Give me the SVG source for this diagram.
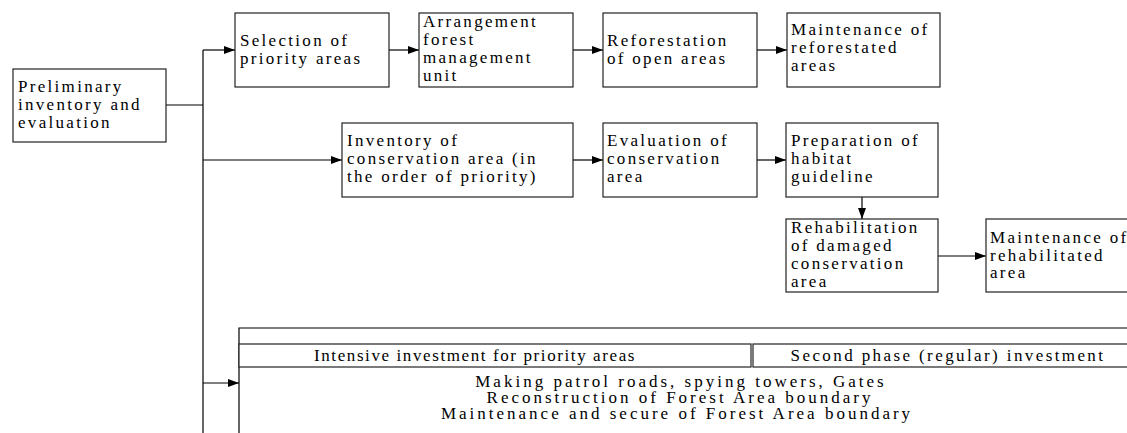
<svg xmlns="http://www.w3.org/2000/svg" width="1127" height="433" viewBox="0 0 1127 433" font-family="Liberation Serif, Times New Roman, serif">
<style>
.box{fill:#fff;stroke:#222;stroke-width:1.2}
.t{font-size:17px;letter-spacing:2.3px;fill:#000}
.c{text-anchor:middle}
.h1{letter-spacing:1.6px}
.h2{letter-spacing:2.4px}
.b{letter-spacing:3px}
.ln{stroke:#000;stroke-width:1.2;fill:none}
</style>
<defs>
<marker id="ah" markerWidth="11" markerHeight="8" refX="11" refY="4" orient="auto" markerUnits="userSpaceOnUse">
<path d="M0,0 L11,4 L0,8 Z" fill="#000"/>
</marker>
</defs>
<rect width="1127" height="433" fill="#fff"/>
<g id="connectors">
<path class="ln" d="M166,105 H203"/>
<path class="ln" d="M203,50 V433"/>
<path class="ln" d="M203,50 H235" marker-end="url(#ah)"/>
<path class="ln" d="M389,50 H419" marker-end="url(#ah)"/>
<path class="ln" d="M573,50 H603" marker-end="url(#ah)"/>
<path class="ln" d="M757,50 H787" marker-end="url(#ah)"/>
<path class="ln" d="M203,160 H342" marker-end="url(#ah)"/>
<path class="ln" d="M573,160 H603" marker-end="url(#ah)"/>
<path class="ln" d="M757,160 H786" marker-end="url(#ah)"/>
<path class="ln" d="M862,197 V219" marker-end="url(#ah)"/>
<path class="ln" d="M938,256 H986" marker-end="url(#ah)"/>
<path class="ln" d="M203,383 H239" marker-end="url(#ah)"/>
</g>
<g id="n-prelim">
<rect class="box" x="13" y="69" width="153" height="73"/>
<text class="t" x="18" y="92">Preliminary</text>
<text class="t" x="18" y="110">inventory and</text>
<text class="t" x="18" y="128">evaluation</text>
</g>
<g id="n-selection">
<rect class="box" x="235" y="13" width="154" height="74"/>
<text class="t" x="240" y="46">Selection of</text>
<text class="t" x="240" y="64">priority areas</text>
</g>
<g id="n-arrangement">
<rect class="box" x="419" y="13" width="154" height="74"/>
<text class="t" x="423" y="27">Arrangement</text>
<text class="t" x="423" y="45">forest</text>
<text class="t" x="423" y="63">management</text>
<text class="t" x="423" y="81">unit</text>
</g>
<g id="n-reforestation">
<rect class="box" x="603" y="13" width="154" height="74"/>
<text class="t" x="607" y="46">Reforestation</text>
<text class="t" x="607" y="64">of open areas</text>
</g>
<g id="n-maint-reforested">
<rect class="box" x="787" y="13" width="153" height="74"/>
<text class="t" x="791" y="35">Maintenance of</text>
<text class="t" x="791" y="53">reforestated</text>
<text class="t" x="791" y="71">areas</text>
</g>
<g id="n-inventory">
<rect class="box" x="342" y="123" width="231" height="74"/>
<text class="t" x="347" y="146">Inventory of</text>
<text class="t" x="347" y="164">conservation area (in</text>
<text class="t" x="347" y="182">the order of priority)</text>
</g>
<g id="n-evaluation">
<rect class="box" x="603" y="123" width="154" height="74"/>
<text class="t" x="607" y="146">Evaluation of</text>
<text class="t" x="607" y="164">conservation</text>
<text class="t" x="607" y="182">area</text>
</g>
<g id="n-preparation">
<rect class="box" x="786" y="123" width="152" height="74"/>
<text class="t" x="791" y="146">Preparation of</text>
<text class="t" x="791" y="164">habitat</text>
<text class="t" x="791" y="182">guideline</text>
</g>
<g id="n-rehab">
<rect class="box" x="786" y="219" width="152" height="73"/>
<text class="t" x="791" y="233">Rehabilitation</text>
<text class="t" x="791" y="251">of damaged</text>
<text class="t" x="791" y="269">conservation</text>
<text class="t" x="791" y="287">area</text>
</g>
<g id="n-maint-rehab">
<rect class="box" x="986" y="219" width="160" height="73"/>
<text class="t" x="990" y="243">Maintenance of</text>
<text class="t" x="990" y="261">rehabilitated</text>
<text class="t" x="990" y="278">area</text>
</g>
<g id="n-investment">
<path class="ln" d="M239,433 V328 H1127"/>
<rect class="box" x="239" y="344" width="512" height="23"/>
<rect class="box" x="753" y="344" width="390" height="23"/>
<text class="t c h1" x="475" y="361">Intensive investment for priority areas</text>
<text class="t c h2" x="948" y="361">Second phase (regular) investment</text>
<text class="t c b" x="681" y="387">Making patrol roads, spying towers, Gates</text>
<text class="t c b" x="680" y="403">Reconstruction of Forest Area boundary</text>
<text class="t c b" x="677" y="419">Maintenance and secure of Forest Area boundary</text>
</g>
</svg>
